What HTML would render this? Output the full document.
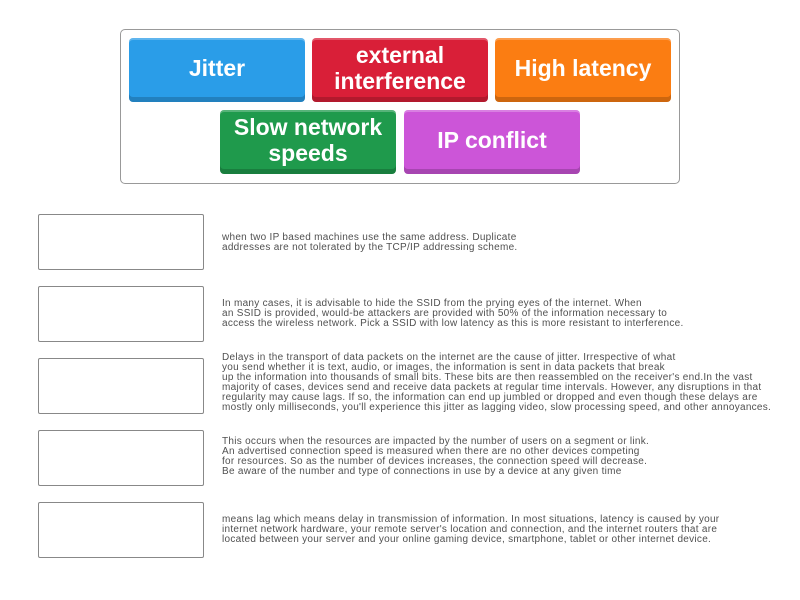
<!DOCTYPE html>
<html><head><meta charset="utf-8"><style>
body{margin:0;width:800px;height:600px;background:#fff;position:relative;overflow:hidden;font-family:"Liberation Sans",sans-serif}
.cont{position:absolute;left:120px;top:29px;width:558px;height:153px;border:1px solid #999;border-radius:5px}
.t{position:absolute;width:176px;height:64px;box-sizing:border-box;padding-bottom:4px;border-radius:4px;color:#fff;font-weight:bold;font-size:23px;line-height:26px;display:flex;align-items:center;justify-content:center;text-align:center;box-shadow:inset 0 -5px 0 rgba(0,0,0,.18),inset 0 2px 0 rgba(255,255,255,.25)}
.b{position:absolute;left:38px;width:164px;height:54px;border:1px solid #888;border-radius:2px}
.x{position:absolute;left:222px;font-size:10px;line-height:10px;color:#505050;white-space:nowrap;letter-spacing:0.28px}
</style></head><body>
<div class="cont"></div>
<div class="t" style="left:129px;top:38px;background:#2a9de8">Jitter</div>
<div class="t" style="left:312px;top:38px;background:#d91f38">external<br>interference</div>
<div class="t" style="left:495px;top:38px;background:#fb7d12">High latency</div>
<div class="t" style="left:220px;top:110px;background:#1f9a4c">Slow network<br>speeds</div>
<div class="t" style="left:404px;top:110px;background:#cc55d8">IP conflict</div>

<div class="b" style="top:214px"></div>
<div class="b" style="top:286px"></div>
<div class="b" style="top:358px"></div>
<div class="b" style="top:430px"></div>
<div class="b" style="top:502px"></div>

<div class="x" style="top:233px">when two IP based machines use the same address. Duplicate<br>addresses are not tolerated by the TCP/IP addressing scheme.</div>
<div class="x" style="top:299px">In many cases, it is advisable to hide the SSID from the prying eyes of the internet. When<br>an SSID is provided, would-be attackers are provided with 50% of the information necessary to<br>access the wireless network. Pick a SSID with low latency as this is more resistant to interference.</div>
<div class="x" style="top:353px">Delays in the transport of data packets on the internet are the cause of jitter. Irrespective of what<br>you send whether it is text, audio, or images, the information is sent in data packets that break<br>up the information into thousands of small bits. These bits are then reassembled on the receiver's end.In the vast<br>majority of cases, devices send and receive data packets at regular time intervals. However, any disruptions in that<br>regularity may cause lags. If so, the information can end up jumbled or dropped and even though these delays are<br>mostly only milliseconds, you'll experience this jitter as lagging video, slow processing speed, and other annoyances.</div>
<div class="x" style="top:437px">This occurs when the resources are impacted by the number of users on a segment or link.<br>An advertised connection speed is measured when there are no other devices competing<br>for resources. So as the number of devices increases, the connection speed will decrease.<br>Be aware of the number and type of connections in use by a device at any given time</div>
<div class="x" style="top:515px">means lag which means delay in transmission of information. In most situations, latency is caused by your<br>internet network hardware, your remote server's location and connection, and the internet routers that are<br>located between your server and your online gaming device, smartphone, tablet or other internet device.</div>
</body></html>
